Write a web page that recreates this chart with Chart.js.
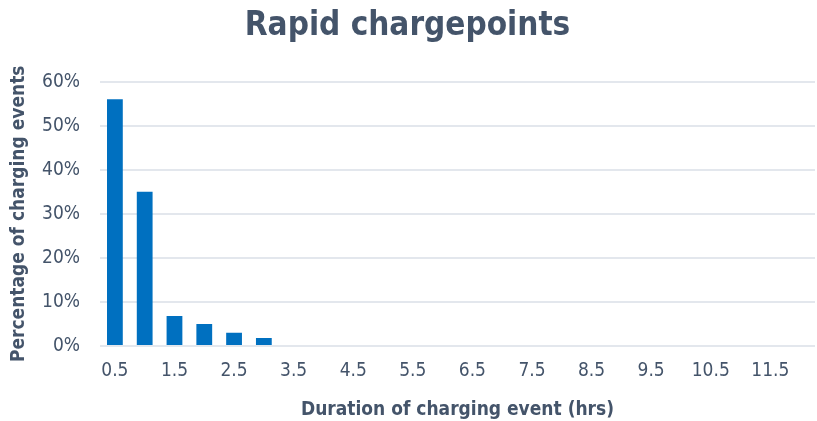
<!DOCTYPE html>
<html lang="en">
<head>
    <meta charset="UTF-8">
    <title>Rapid chargepoints</title>
    <script src="https://cdn.jsdelivr.net/npm/chart.js"></script>
    <style>
        html, body { margin: 0; padding: 0; background: #ffffff; }
        #wrap { width: 817px; height: 421px; }
    </style>
</head>
<body>
    <div id="wrap"><canvas id="chart" width="817" height="421"></canvas></div>

    <script>
        // duration buckets (hrs)
        const durations = ['0.5', '1', '1.5', '2', '2.5', '3', '3.5', '4', '4.5', '5', '5.5', '6',
                           '6.5', '7', '7.5', '8', '8.5', '9', '9.5', '10', '10.5', '11', '11.5', '12'];
        // share of charging events (%)
        const shares = [56, 35, 6.8, 5, 3, 1.8, 0, 0, 0, 0, 0, 0,
                        0, 0, 0, 0, 0, 0, 0, 0, 0, 0, 0, 0];
        const yTicks = [0, 10, 20, 30, 40, 50, 60];

        const textColor = '#44546a';
        const fontFamily = '"DejaVu Sans Condensed", "Liberation Sans Narrow", "DejaVu Sans", sans-serif';

        const ctx = document.getElementById('chart').getContext('2d');
        new Chart(ctx, {
            type: 'bar',
            data: {
                labels: durations,
                datasets: [{
                    label: 'Rapid',
                    data: shares,
                    backgroundColor: '#0070c0',
                    borderWidth: 0,
                    categoryPercentage: 1,
                    barPercentage: 0.53
                }]
            },
            options: {
                responsive: false,
                animation: false,
                layout: { padding: { left: 0, right: 2, top: 0, bottom: 0 } },
                plugins: {
                    legend: { display: false },
                    tooltip: { enabled: false },
                    title: {
                        display: true,
                        text: 'Rapid chargepoints',
                        color: textColor,
                        font: { family: fontFamily, size: 33, weight: 'bold' },
                        padding: { top: 7, bottom: 35 }
                    }
                },
                scales: {
                    x: {
                        grid: { display: false },
                        border: { display: false },
                        ticks: {
                            color: textColor,
                            font: { family: fontFamily, size: 19 },
                            autoSkip: false,
                            maxRotation: 0,
                            padding: 6,
                            callback: function(value, index) {
                                return index % 2 === 0 ? durations[index] : '';
                            }
                        },
                        title: {
                            display: true,
                            text: 'Duration of charging event (hrs)',
                            color: textColor,
                            font: { family: fontFamily, size: 19, weight: 'bold' },
                            padding: { top: 7, bottom: 0 }
                        },
                        afterFit: function(scale) { scale.height = 75; }
                    },
                    y: {
                        min: 0,
                        max: 60,
                        afterBuildTicks: function(scale) {
                            scale.ticks = yTicks.map(v => ({ value: v }));
                        },
                        grid: { color: '#e3e7ed', lineWidth: 2, drawTicks: false },
                        border: { display: false },
                        ticks: {
                            color: textColor,
                            font: { family: fontFamily, size: 19 },
                            padding: 20,
                            callback: v => v + '%'
                        },
                        title: {
                            display: true,
                            text: 'Percentage of charging events',
                            color: textColor,
                            font: { family: fontFamily, size: 19, weight: 'bold' },
                            padding: { top: 8, bottom: 0 }
                        },
                        afterFit: function(scale) { scale.width = 100; }
                    }
                }
            }
        });
    </script>
</body>
</html>
